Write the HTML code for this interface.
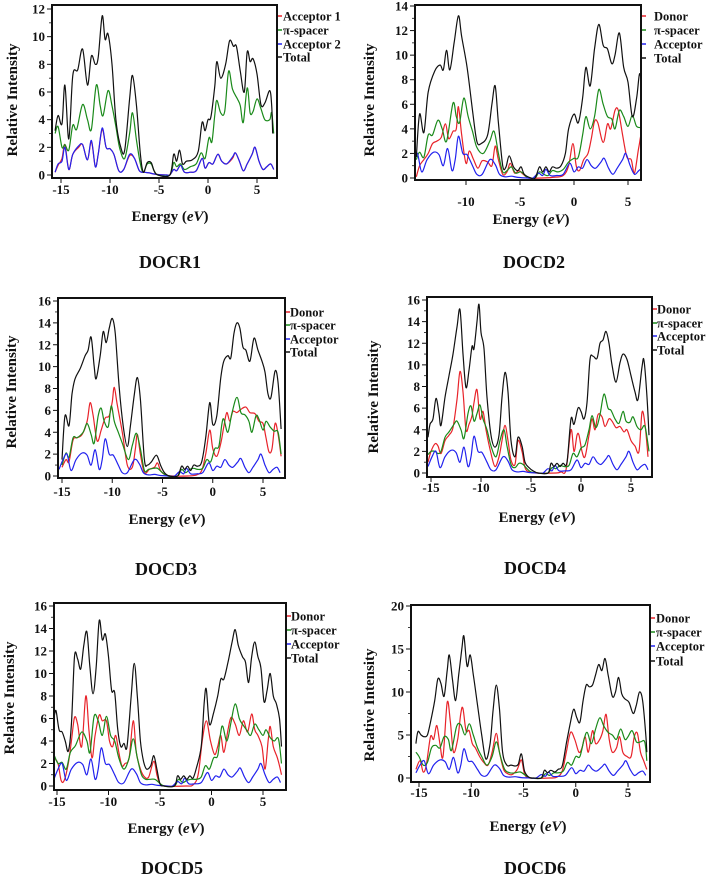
<!DOCTYPE html>
<html><head><meta charset="utf-8"><style>
html,body{margin:0;padding:0;background:#fff;}
svg{display:block;font-family:"Liberation Serif",serif;font-weight:bold;}
</style></head><body>
<svg id="fig" width="708" height="876" viewBox="0 0 708 876" xmlns="http://www.w3.org/2000/svg"></svg>
<script>
// ---- data (energy eV / relative intensity) ----
const acceptorX=[-15.3,-14.9,-14.5,-14.1,-13.6,-13.0,-12.5,-12.1,-11.7,-11.3,-11.0,-10.7,-10.3,-9.9,-9.4,-9.0,-8.5,-7.8,-7.3,-6.9,-6.4,-5.8,-5.2,-4.3,-3.8,-3.3,-2.9,-2.6,-2.2,-1.6,-1.0,-0.4,0.0,0.4,0.8,1.2,1.6,2.0,2.5,2.8,3.2,3.6,4.0,4.5,4.8,5.2,5.6,6.0,6.4,6.7];
const acceptorY=[0.6,1.5,2.0,0.5,1.5,2.1,1.9,1.0,2.4,0.6,1.5,3.4,2.0,1.9,1.0,0.3,0.3,1.5,1.1,0.3,0.1,0.15,0.05,0,0,0.4,0.2,0.7,0.2,0.2,0.3,1.2,0.5,0.9,0.8,1.5,1.0,0.8,1.3,1.6,0.8,0.3,0.8,1.5,2.0,1.0,0.3,0.6,0.8,0.3];

// DOCR1
const p1TotalX=[-15.6,-15.3,-14.9,-14.6,-14.2,-13.8,-13.3,-12.8,-12.3,-11.9,-11.5,-11.2,-10.8,-10.5,-10.2,-9.8,-9.4,-8.9,-8.5,-8.0,-7.7,-7.3,-6.9,-6.6,-6.2,-5.8,-5.5,-5.1,-3.9,-3.5,-3.2,-2.9,-2.6,-2.2,-1.6,-1.0,-0.6,-0.3,0.0,0.3,0.7,0.9,1.3,1.8,2.2,2.6,2.9,3.3,3.7,4.0,4.3,4.6,5.0,5.4,5.8,6.3,6.5,6.6];
const p1TotalY=[3.2,4.3,3.7,6.5,2.6,7.2,7.6,9.1,6.5,8.6,8.0,8.5,11.5,9.8,10.2,8.0,4.0,2.0,1.8,5.5,7.2,5.0,1.5,0.2,0.9,0.9,0.3,0,0,1.5,1.0,1.8,0.8,1.0,1.1,1.7,3.8,3.2,4.0,4.2,6.5,8.2,7.0,8.0,9.7,9.3,9.3,7.5,6.0,8.9,8.2,8.4,7.3,5.1,5.2,6.1,5.0,3.0];
const p1SpacerX=[-15.6,-15.3,-14.9,-14.6,-14.2,-13.8,-13.4,-12.8,-12.3,-11.9,-11.4,-11.0,-10.7,-10.2,-9.8,-9.4,-9.0,-8.5,-8.0,-7.7,-7.3,-6.9,-6.6,-6.2,-5.8,-5.5,-5.1,-3.9,-3.5,-3.2,-2.8,-2.4,-1.8,-1.2,-0.7,-0.3,0.1,0.4,0.7,0.9,1.3,1.7,2.1,2.5,3.0,3.3,3.6,4.0,4.3,4.6,5.0,5.4,5.8,6.3,6.5,6.7];
const p1SpacerY=[3.0,3.5,2.0,2.2,1.8,3.6,3.3,5.1,4.0,3.3,6.5,5.0,4.3,6.1,5.0,3.5,1.9,1.2,3.0,4.5,2.5,0.8,0.2,0.8,0.8,0.3,0,0,0.9,0.6,0.8,0.4,0.6,0.8,1.6,1.2,2.7,2.4,4.4,5.4,4.5,4.6,7.5,6.2,5.5,5.0,3.8,6.3,4.5,4.6,5.5,4.8,4.0,4.0,4.5,3.0];
const p1Acc2X=[-15.6,-15.3,-14.9,-14.6,-14.2,-13.8,-13.2,-12.8,-12.3,-11.9,-11.5,-11.2,-10.8,-10.4,-10.0,-9.6,-9.1,-8.6,-8.0,-7.5,-7.0,-6.5,-6.0,-5.3,-4.2,-3.9,-3.5,-3.2,-2.8,-2.4,-1.8,-1.2,-0.6,-0.3,0.1,0.5,1.0,1.4,1.9,2.5,2.8,3.2,3.6,4.0,4.5,4.8,5.2,5.6,6.0,6.4,6.7];
const p1Acc2Y=[0.2,0.8,1.0,2.0,0.4,1.5,2.1,2.2,1.1,2.5,0.6,1.5,3.4,2.0,1.9,1.5,0.3,0.4,1.5,1.2,0.3,0.2,0.15,0.05,0,0,0.4,0.3,0.7,0.2,0.2,0.3,1.2,0.5,0.9,0.8,1.5,1.0,0.8,1.3,1.6,1.0,0.3,0.8,1.5,2.0,1.0,0.4,0.6,0.8,0.4];
const p1Acc1Y=[0.2,0.7,1.2,2.2,0.4,1.5,2.0,2.2,1.1,2.4,0.6,1.5,3.3,2.0,1.9,1.5,0.3,0.4,1.4,1.2,0.3,0.2,0.15,0.05,0,0,0.4,0.3,0.7,0.2,0.2,0.3,1.2,0.5,0.9,0.8,1.5,1.0,0.8,1.2,1.6,1.0,0.3,0.8,1.5,2.0,1.0,0.4,0.6,0.8,0.4];

// DOCD2
const p2TotalX=[-14.6,-14.3,-13.9,-13.5,-12.9,-12.4,-12.1,-11.8,-11.5,-11.1,-10.7,-10.4,-9.9,-9.4,-9.0,-8.6,-8.0,-7.6,-7.3,-7.0,-6.6,-6.3,-6.0,-5.6,-5.2,-4.9,-4.6,-4.0,-3.6,-3.2,-2.9,-2.6,-2.3,-2.0,-1.6,-1.2,-0.8,-0.5,0.0,0.4,0.8,1.1,1.5,1.9,2.3,2.7,3.1,3.5,3.8,4.2,4.6,5.0,5.4,5.8,6.1,6.4,6.7];
const p2TotalY=[1.7,5.2,3.7,7.0,8.7,9.2,8.8,10.4,8.8,11.0,13.2,11.5,9.0,5.5,3.0,2.8,3.5,6.0,7.5,4.5,1.0,0.9,1.8,0.9,0.6,0.9,0.3,0,0,0.9,0.5,0.9,0.5,0.9,0.8,1.0,2.0,4.0,5.2,4.5,6.5,9.0,7.5,10.5,12.5,10.8,10.5,9.3,10.0,11.8,9.0,7.8,5.0,6.5,8.5,6.0,2.0];
const p2SpacerX=[-14.6,-14.3,-13.9,-13.5,-13.1,-12.6,-12.2,-11.8,-11.2,-10.9,-10.6,-10.2,-9.8,-9.4,-9.0,-8.4,-7.8,-7.4,-7.0,-6.6,-6.2,-5.8,-5.4,-4.9,-4.4,-4.0,-3.6,-3.2,-2.8,-2.4,-2.0,-1.5,-1.0,-0.5,0.0,0.4,0.8,1.1,1.5,1.9,2.3,2.7,3.1,3.5,3.8,4.2,4.6,5.0,5.4,5.8,6.3,6.6,6.7];
const p2SpacerY=[1.5,2.1,1.7,3.5,3.5,4.7,4.0,3.0,6.1,5.0,4.5,6.5,5.0,3.8,2.5,2.0,3.0,3.8,2.0,0.5,0.6,0.9,0.4,0.5,0.1,0,0,0.5,0.3,0.2,0.6,0.5,0.7,1.3,1.6,1.7,3.5,5.0,4.0,5.0,7.2,6.0,5.0,4.8,4.0,5.5,5.0,4.2,5.1,4.2,4.1,4.0,2.0];
const p2DonorX=[-14.6,-14.3,-13.9,-13.5,-13.1,-12.7,-12.3,-11.9,-11.6,-11.2,-10.9,-10.7,-10.4,-10.0,-9.7,-9.3,-8.9,-8.5,-8.0,-7.6,-7.3,-7.0,-6.6,-6.2,-5.9,-5.5,-5.1,-4.7,-4.2,-3.0,-2.0,-1.0,-0.5,-0.1,0.2,0.5,0.9,1.3,1.6,1.9,2.2,2.7,3.1,3.4,3.8,4.1,4.5,4.9,5.3,5.6,6.0,6.3,6.6,6.7];
const p2DonorY=[0.1,1.0,1.5,2.0,2.8,3.0,3.3,4.4,3.2,3.8,4.0,5.8,3.5,1.2,2.2,1.5,0.8,1.4,1.3,1.0,2.6,1.5,0.3,0.5,1.2,0.4,0.6,0.3,0,0,0.05,0.2,1.0,2.8,1.0,0.6,1.5,2.0,3.2,4.6,4.5,2.9,4.4,4.0,5.5,5.5,3.5,1.7,1.5,0.4,2.5,3.6,1.0,0.2];

// DOCD3
const p3TotalX=[-15.0,-14.7,-14.3,-14.0,-13.7,-13.2,-12.7,-12.4,-12.1,-11.8,-11.6,-11.2,-10.9,-10.6,-10.3,-10.0,-9.7,-9.3,-8.9,-8.5,-8.2,-7.8,-7.5,-7.2,-6.8,-6.5,-6.1,-5.6,-5.2,-4.8,-4.3,-3.5,-3.1,-2.8,-2.5,-2.2,-1.9,-1.5,-1.1,-0.7,-0.3,0.0,0.4,0.8,1.1,1.5,1.8,2.1,2.4,2.7,3.0,3.3,3.7,4.1,4.5,4.9,5.2,5.5,5.8,6.2,6.5,6.8];
const p3TotalY=[1.5,5.5,4.6,7.5,8.9,9.8,11.0,11.5,12.7,10.0,8.9,11.0,13.2,12.2,13.5,14.4,13.0,8.0,4.5,2.7,4.5,7.5,9.0,7.0,1.5,1.0,1.3,1.9,1.0,0.3,0,0,0.9,0.6,0.9,0.5,1.0,0.9,1.3,3.5,6.7,4.7,5.5,9.0,10.5,11.0,10.8,13.0,14.0,13.5,11.8,11.5,10.5,12.6,11.5,10.5,9.5,7.5,7.2,9.6,8.5,4.3];
const p3SpacerX=[-15.0,-14.6,-14.3,-13.9,-13.5,-12.9,-12.5,-12.1,-11.8,-11.4,-11.1,-10.8,-10.4,-10.1,-9.8,-9.4,-9.0,-8.4,-8.0,-7.6,-7.2,-6.8,-6.4,-5.9,-5.5,-5.0,-4.5,-3.5,-3.1,-2.7,-2.3,-1.9,-1.5,-1.0,-0.6,-0.2,0.2,0.6,0.9,1.1,1.5,1.9,2.4,2.8,3.2,3.6,3.9,4.3,4.6,5.0,5.3,5.7,6.1,6.5,6.8];
const p3SpacerY=[1.0,2.1,1.7,3.5,3.5,4.0,4.8,3.8,3.0,5.5,6.2,5.0,4.5,6.4,5.0,4.0,3.0,1.5,2.8,3.9,2.5,0.5,0.6,0.7,0.7,0.3,0,0,0.6,0.3,0.6,0.7,0.6,0.7,1.5,1.3,2.5,2.7,4.7,5.2,4.0,5.7,7.2,5.8,5.6,5.0,4.0,5.5,5.2,4.2,5.0,4.5,4.1,4.0,2.0];
const p3DonorX=[-15.0,-14.6,-14.3,-13.9,-13.5,-13.0,-12.5,-12.2,-11.9,-11.5,-11.1,-10.7,-10.3,-10.0,-9.8,-9.5,-9.0,-8.5,-8.0,-7.7,-7.5,-7.2,-6.8,-6.3,-5.8,-5.5,-5.2,-4.7,-4.0,-2.5,-1.6,-1.1,-0.7,-0.3,0.0,0.4,0.8,1.1,1.4,1.7,2.0,2.4,2.8,3.3,3.7,4.2,4.6,5.0,5.3,5.6,5.9,6.2,6.5,6.8];
const p3DonorY=[0.8,1.5,1.3,3.3,3.5,3.8,5.0,6.7,5.5,3.2,4.2,5.3,5.5,6.8,8.1,6.5,4.0,1.0,0.8,2.5,3.8,2.0,0.3,0.6,0.8,1.2,0.5,0.1,0,0,0.1,0.5,2.0,4.2,2.5,1.8,3.0,4.5,5.8,5.0,5.9,5.8,6.1,6.3,5.8,5.7,5.0,4.8,3.5,2.2,2.5,4.8,3.8,1.8];

// DOCD4
const p4TotalX=[-15.3,-15.1,-14.8,-14.5,-14.2,-14.0,-13.6,-13.2,-12.8,-12.4,-12.1,-11.8,-11.5,-11.2,-10.9,-10.7,-10.4,-10.2,-10.0,-9.7,-9.4,-9.0,-8.6,-8.2,-7.9,-7.6,-7.3,-7.0,-6.6,-6.3,-5.9,-5.6,-5.2,-4.8,-4.3,-3.3,-3.0,-2.7,-2.4,-2.1,-1.8,-1.4,-1.0,-0.7,-0.3,0.0,0.3,0.6,0.9,1.2,1.6,1.9,2.2,2.5,2.8,3.1,3.5,3.9,4.2,4.6,5.0,5.4,5.7,6.1,6.3,6.6,6.8];
const p4TotalY=[3.3,4.5,5.0,6.9,5.5,4.4,7.0,9.0,11.0,13.5,15.1,11.0,7.9,9.5,11.7,11.5,14.0,15.6,13.0,11.5,7.0,3.5,2.4,3.5,7.0,9.3,7.5,3.0,1.5,3.3,2.5,1.0,0.5,0.2,0,0,0.9,0.6,0.9,0.6,0.9,1.0,5.0,4.5,6.0,5.7,5.0,6.5,10.5,10.8,10.6,12.0,12.3,13.1,12.0,10.0,8.4,10.2,11.0,10.5,9.0,7.5,6.8,9.8,10.4,7.0,3.5];
const p4SpacerX=[-15.3,-15.0,-14.6,-14.3,-14.0,-13.6,-13.2,-12.7,-12.4,-12.0,-11.7,-11.3,-11.0,-10.7,-10.4,-10.1,-9.8,-9.4,-9.0,-8.5,-8.1,-7.7,-7.4,-7.0,-6.6,-6.2,-5.8,-5.4,-5.0,-4.3,-3.3,-2.9,-2.5,-2.1,-1.7,-1.2,-0.8,-0.4,0.0,0.4,0.8,1.1,1.5,1.9,2.3,2.7,3.0,3.4,3.8,4.2,4.5,4.9,5.2,5.6,6.0,6.4,6.8];
const p4SpacerY=[1.7,2.0,2.0,1.8,2.0,3.3,3.8,4.5,4.8,4.0,3.2,5.5,6.2,4.8,5.5,6.3,5.0,4.0,2.5,1.5,3.0,4.0,2.5,0.8,0.5,0.9,0.8,0.4,0.1,0,0,0.5,0.4,0.7,0.6,0.7,1.8,1.5,2.3,2.6,4.0,5.3,4.2,5.4,7.3,6.0,5.8,5.0,4.6,5.7,4.8,4.7,5.2,4.3,4.0,4.3,2.0];
const p4DonorX=[-15.3,-15.0,-14.6,-14.3,-14.0,-13.6,-13.2,-12.8,-12.4,-12.1,-11.8,-11.5,-11.2,-10.9,-10.7,-10.4,-10.1,-9.8,-9.5,-9.0,-8.6,-8.2,-7.9,-7.6,-7.3,-7.0,-6.6,-6.3,-5.9,-5.6,-5.2,-4.5,-2.5,-2.0,-1.5,-1.0,-0.7,-0.4,-0.2,0.1,0.4,0.8,1.1,1.4,1.7,2.1,2.4,2.8,3.1,3.5,3.9,4.3,4.6,5.0,5.4,5.8,6.1,6.4,6.7];
const p4DonorY=[1.0,2.0,2.7,2.5,1.8,3.0,3.5,4.2,6.8,9.4,7.5,4.0,4.5,5.3,6.5,7.7,5.0,5.7,4.0,1.8,0.6,1.5,3.0,4.4,3.0,1.2,0.8,3.0,2.0,0.5,0.1,0,0,0.1,0.3,4.0,2.0,3.5,3.5,2.0,1.5,3.5,5.0,4.0,5.4,5.2,4.3,5.0,4.8,4.2,4.3,3.8,4.0,3.0,2.5,2.0,5.6,4.5,1.5];

// DOCD5
const p5TotalX=[-15.3,-15.1,-14.8,-14.5,-14.2,-13.9,-13.6,-13.3,-13.0,-12.7,-12.4,-12.1,-11.8,-11.5,-11.2,-10.9,-10.6,-10.3,-10.0,-9.7,-9.4,-9.1,-8.8,-8.5,-8.2,-7.8,-7.5,-7.2,-6.9,-6.6,-6.3,-5.9,-5.6,-5.3,-5.0,-4.6,-3.6,-3.3,-3.0,-2.7,-2.4,-2.1,-1.8,-1.5,-1.0,-0.7,-0.5,-0.2,0.2,0.6,0.9,1.2,1.6,2.0,2.3,2.6,3.0,3.3,3.6,3.9,4.2,4.5,4.8,5.1,5.4,5.7,6.0,6.3,6.6,6.8];
const p5TotalY=[6.0,6.7,5.0,4.8,4.0,3.1,5.5,11.5,11.3,10.4,12.5,13.7,10.5,8.2,10.5,14.7,13.0,13.5,11.5,8.5,8.3,5.0,3.5,3.8,3.5,8.0,10.9,8.0,4.0,2.2,1.5,1.8,2.7,1.5,0.2,0,0,0.9,0.6,0.9,0.6,0.9,0.7,1.5,3.5,7.5,8.6,5.5,6.5,8.0,9.5,9.5,11.0,12.8,13.9,12.5,11.5,11.0,9.2,11.5,12.8,11.5,10.5,7.5,8.5,10.0,8.0,7.3,6.0,3.5];
const p5SpacerX=[-15.3,-14.9,-14.5,-14.1,-13.7,-13.2,-12.6,-12.1,-11.8,-11.4,-11.0,-10.6,-10.2,-9.8,-9.4,-9.0,-8.5,-8.0,-7.6,-7.2,-6.8,-6.4,-6.0,-5.5,-5.1,-4.6,-3.6,-3.2,-2.8,-2.4,-2.0,-1.5,-1.0,-0.6,-0.2,0.2,0.6,0.9,1.1,1.5,1.9,2.3,2.7,3.0,3.4,3.8,4.2,4.6,5.0,5.3,5.7,6.1,6.5,6.8];
const p5SpacerY=[2.8,2.0,2.1,1.5,3.0,3.6,4.8,4.0,3.0,6.2,5.8,4.5,6.2,4.5,4.0,2.5,1.5,2.5,4.2,2.5,1.0,0.6,0.6,0.6,0.3,0,0,0.6,0.3,0.5,0.6,0.6,0.8,1.8,1.5,2.5,2.7,4.8,5.3,4.0,5.7,7.3,6.0,5.5,5.0,4.5,5.5,5.0,4.5,5.0,4.3,4.0,4.2,2.0];
const p5DonorX=[-15.3,-14.9,-14.6,-14.3,-13.9,-13.6,-13.3,-13.0,-12.6,-12.2,-11.9,-11.6,-11.3,-10.9,-10.6,-10.2,-9.9,-9.6,-9.3,-9.0,-8.7,-8.4,-8.0,-7.6,-7.3,-6.9,-6.5,-6.1,-5.6,-5.3,-5.0,-4.5,-2.5,-1.8,-1.3,-0.9,-0.5,-0.1,0.3,0.6,0.9,1.2,1.6,1.9,2.3,2.7,3.1,3.5,3.9,4.2,4.5,4.9,5.2,5.5,5.7,6.0,6.4,6.8];
const p5DonorY=[2.5,2.0,0.5,0.5,2.0,4.0,6.1,5.5,3.5,8.0,5.0,2.5,4.5,6.3,5.8,5.8,4.0,3.5,4.5,3.0,1.8,2.0,2.5,5.8,3.0,1.5,0.8,0.8,2.2,1.0,0.2,0,0,0.1,1.0,4.0,5.8,4.0,2.8,3.5,4.5,3.0,5.0,6.1,5.5,4.5,5.8,4.8,6.4,5.0,4.5,3.5,1.5,4.0,5.3,3.5,2.5,1.0];

// DOCD6
const p6TotalX=[-15.3,-15.1,-14.8,-14.5,-14.2,-13.9,-13.5,-13.2,-12.9,-12.6,-12.3,-12.1,-11.8,-11.5,-11.2,-10.9,-10.7,-10.4,-10.1,-9.8,-9.4,-9.0,-8.6,-8.2,-7.9,-7.6,-7.3,-7.0,-6.6,-6.2,-5.8,-5.5,-5.2,-4.9,-4.5,-4.0,-3.3,-3.0,-2.7,-2.4,-2.0,-1.7,-1.3,-0.9,-0.5,-0.2,0.1,0.4,0.7,1.0,1.3,1.6,1.9,2.2,2.5,2.8,3.1,3.5,3.8,4.1,4.4,4.7,5.1,5.5,5.8,6.1,6.4,6.7,6.8];
const p6TotalY=[4.0,5.4,5.0,4.8,5.0,6.5,9.0,11.5,11.0,9.5,12.5,14.3,11.5,9.0,12.0,15.0,16.5,13.0,14.3,12.0,8.5,5.0,2.2,4.0,8.0,10.8,8.0,3.0,1.5,1.5,1.4,1.6,2.8,0.8,0.1,0,0,0.9,0.6,0.9,0.7,1.0,1.4,4.0,6.5,8.0,7.0,6.5,9.0,10.8,10.6,10.8,12.0,13.2,12.5,13.9,12.0,9.5,10.0,11.7,9.8,9.2,8.8,7.5,8.5,10.0,9.0,5.0,3.0];
const p6SpacerX=[-15.3,-15.0,-14.6,-14.2,-13.8,-13.4,-13.0,-12.6,-12.2,-11.9,-11.4,-11.0,-10.6,-10.2,-9.8,-9.4,-9.0,-8.5,-8.0,-7.6,-7.2,-6.8,-6.3,-5.8,-5.3,-4.8,-4.3,-3.3,-2.9,-2.5,-2.1,-1.7,-1.2,-0.8,-0.4,0.0,0.4,0.8,1.1,1.5,1.9,2.3,2.7,3.1,3.5,3.9,4.3,4.7,5.0,5.4,5.8,6.2,6.6,6.8];
const p6SpacerY=[3.0,2.5,1.5,1.8,3.5,3.8,3.5,4.8,4.5,3.2,6.0,6.2,5.0,6.3,5.0,3.5,2.5,1.5,2.5,4.2,2.5,1.0,0.6,0.6,0.7,0.3,0,0,0.5,0.3,0.6,0.6,0.8,1.8,1.5,2.5,2.5,4.5,5.3,4.0,5.7,7.0,6.0,5.3,5.0,4.5,5.7,4.5,4.8,5.5,4.2,4.2,4.2,2.0];
const p6DonorX=[-15.3,-14.9,-14.6,-14.3,-13.9,-13.6,-13.3,-13.0,-12.7,-12.3,-12.0,-11.7,-11.3,-11.0,-10.8,-10.5,-10.2,-9.9,-9.6,-9.2,-8.8,-8.4,-8.0,-7.6,-7.3,-6.9,-6.5,-6.1,-5.6,-5.2,-4.9,-4.4,-2.5,-1.8,-1.3,-0.9,-0.5,-0.1,0.3,0.6,0.9,1.2,1.6,1.9,2.3,2.6,2.9,3.2,3.5,3.9,4.2,4.5,4.9,5.3,5.6,5.9,6.2,6.5,6.8];
const p6DonorY=[1.0,2.0,0.7,1.5,4.8,4.5,6.1,4.0,2.5,8.8,6.5,3.0,4.5,7.5,8.1,5.5,5.5,4.0,3.5,2.5,1.8,1.5,3.0,5.2,3.0,1.0,0.5,0.4,1.0,2.1,0.5,0,0,0.1,0.8,3.0,5.3,4.5,3.0,3.5,4.8,3.0,5.5,4.0,4.5,5.5,7.4,4.5,3.0,3.5,4.8,3.0,2.5,2.5,4.8,5.2,3.0,2.0,1.0];

const xTicks=[-15,-10,-5,0,5];
const panelNames=["DOCR1","DOCD2","DOCD3","DOCD4","DOCD5","DOCD6"];
const legendD=["Donor","\u03c0-spacer","Acceptor","Total"];
const legendR=["Acceptor 1","\u03c0-spacer","Acceptor 2","Total"];

// ---- layout ----
const panels=[
 {box:[52,5,277,178],x1:[-15,61],x2:[5,257],y0:175,yt:9,ymax:12,yTicks:[0,2,4,6,8,10,12],tickY:194,en:[170,221],lab:[170,268],yt2:[12,100],lg:[283,[16,30,44,57]],legend:legendR,
  series:[[p1Acc2X,p1Acc1Y,"#e8232a"],[p1SpacerX,p1SpacerY,"#1a8a1a"],[p1Acc2X,p1Acc2Y,"#2222ee"],[p1TotalX,p1TotalY,"#111"]]},
 {box:[415,5,641,180],x1:[-10,466],x2:[5,628],y0:178,yt:6,ymax:14,yTicks:[0,2,4,6,8,10,12,14],tickY:206,en:[531,224],lab:[534,268],yt2:[369,100],lg:[654,[16,30,44,58]],legend:legendD,
  series:[[p2DonorX,p2DonorY,"#e8232a"],[p2SpacerX,p2SpacerY,"#1a8a1a"],[acceptorX,acceptorY,"#2222ee"],[p2TotalX,p2TotalY,"#111"]]},
 {box:[58,298,285,478],x1:[-15,62],x2:[5,263],y0:476,yt:301,ymax:16,yTicks:[0,2,4,6,8,10,12,14,16],tickY:496,en:[167,524],lab:[166,575],yt2:[11,392],lg:[290,[312,325,339,352]],legend:legendD,
  series:[[p3DonorX,p3DonorY,"#e8232a"],[p3SpacerX,p3SpacerY,"#1a8a1a"],[acceptorX,acceptorY,"#2222ee"],[p3TotalX,p3TotalY,"#111"]]},
 {box:[427,297,652,477],x1:[-15,431],x2:[5,631],y0:473,yt:300,ymax:16,yTicks:[0,2,4,6,8,10,12,14,16],tickY:492,en:[537,522],lab:[535,574],yt2:[373,397],lg:[657,[309,323,336,350]],legend:legendD,
  series:[[p4DonorX,p4DonorY,"#e8232a"],[p4SpacerX,p4SpacerY,"#1a8a1a"],[acceptorX,acceptorY,"#2222ee"],[p4TotalX,p4TotalY,"#111"]]},
 {box:[54,603,286,790],x1:[-15,57],x2:[5,263],y0:786,yt:606,ymax:16,yTicks:[0,2,4,6,8,10,12,14,16],tickY:806,en:[166,833],lab:[172,874],yt2:[9,698],lg:[291,[616,630,644,658]],legend:legendD,
  series:[[p5DonorX,p5DonorY,"#e8232a"],[p5SpacerX,p5SpacerY,"#1a8a1a"],[acceptorX,acceptorY,"#2222ee"],[p5TotalX,p5TotalY,"#111"]]},
 {box:[411,605,650,782],x1:[-15,419],x2:[5,628],y0:778,yt:606,ymax:20,yTicks:[0,5,10,15,20],tickY:797,en:[528,831],lab:[535,874],yt2:[369,705],lg:[656,[618,632,646,661]],legend:legendD,
  series:[[p6DonorX,p6DonorY,"#e8232a"],[p6SpacerX,p6SpacerY,"#1a8a1a"],[acceptorX,acceptorY,"#2222ee"],[p6TotalX,p6TotalY,"#111"]]}
];

const NS="http://www.w3.org/2000/svg";
const svg=document.getElementById('fig');
function mk(tag,attrs,parent){const e=document.createElementNS(NS,tag);for(const k in attrs)e.setAttribute(k,attrs[k]);(parent||svg).appendChild(e);return e;}
function smooth(pts){
  let d="M"+pts[0][0].toFixed(1)+","+pts[0][1].toFixed(1);
  for(let i=0;i<pts.length-1;i++){
    const p0=pts[Math.max(0,i-1)],p1=pts[i],p2=pts[i+1],p3=pts[Math.min(pts.length-1,i+2)];
    const c1x=p1[0]+(p2[0]-p0[0])/6,c1y=p1[1]+(p2[1]-p0[1])/6;
    const c2x=p2[0]-(p3[0]-p1[0])/6,c2y=p2[1]-(p3[1]-p1[1])/6;
    d+="C"+c1x.toFixed(1)+","+c1y.toFixed(1)+" "+c2x.toFixed(1)+","+c2y.toFixed(1)+" "+p2[0].toFixed(1)+","+p2[1].toFixed(1);
  }
  return d;
}
const seriesNames=["series-1","pi-spacer","series-3","total"];
panels.forEach((p,pi)=>{
  const g=mk('g',{});
  
  
  const sx=v=>p.x1[1]+(v-p.x1[0])*(p.x2[1]-p.x1[1])/(p.x2[0]-p.x1[0]);
  const sy=v=>p.y0-v*(p.y0-p.yt)/p.ymax;
  const [bx0,by0,bx1,by1]=p.box;
  const cid='clip'+pi;
  const cp=mk('clipPath',{id:cid},g);mk('rect',{x:bx0+1,y:by0+1,width:bx1-bx0-2,height:by1-by0-2},cp);
  p.series.forEach((s,si)=>{
    const pts=s[0].map((x,i)=>[sx(x),sy(s[1][i])]);
    const path=mk('path',{d:smooth(pts),fill:'none',stroke:s[2],'stroke-width':1.2,'clip-path':'url(#'+cid+')'},g);
    
    
  });
  const box=mk('rect',{x:bx0,y:by0,width:bx1-bx0,height:by1-by0,fill:'none',stroke:'#111','stroke-width':2},g);
  
  
  const step=p.yTicks[1]-p.yTicks[0];
  p.yTicks.forEach(t=>{
    const y=sy(t);
    mk('line',{x1:bx0-5,x2:bx0,y1:y,y2:y,stroke:'#111','stroke-width':1},g);
    if(t<p.ymax){const ym=sy(t+step/2);mk('line',{x1:bx0-3,x2:bx0,y1:ym,y2:ym,stroke:'#111','stroke-width':0.8},g);}
    const tx=mk('text',{x:bx0-7,y:y+4.5,'text-anchor':'end','font-size':13,fill:'#111'},g);
    tx.textContent=t;
    
    
  });
  xTicks.forEach(t=>{
    const x=sx(t); if(x<bx0-2||x>bx1+2)return;
    mk('line',{x1:x,x2:x,y1:by1,y2:by1+5,stroke:'#111','stroke-width':1},g);
    const tx=mk('text',{x:x,y:p.tickY,'text-anchor':'middle','font-size':13,fill:'#111'},g);
    tx.textContent=t;
    
    
  });
  const et=mk('text',{x:p.en[0],y:p.en[1],'text-anchor':'middle','font-size':15,fill:'#111'},g);
  et.innerHTML='Energy (<tspan font-style="italic">eV</tspan>)';
  
  
  const yt=mk('text',{x:0,y:0,'text-anchor':'middle','font-size':15,fill:'#111',transform:'translate('+(p.yt2[0]+5)+','+p.yt2[1]+') rotate(-90)'},g);
  yt.textContent='Relative Intensity';
  
  
  const lb=mk('text',{x:p.lab[0],y:p.lab[1],'text-anchor':'middle','font-size':18,fill:'#111'},g);
  lb.textContent=panelNames[pi];
  
  
  p.legend.forEach((name,li)=>{
    const y=p.lg[1][li];
    mk('line',{x1:bx1+1,x2:bx1+5,y1:y,y2:y,stroke:p.series[li][2],'stroke-width':1.5},g);
    const t=mk('text',{x:p.lg[0],y:y+4.5,'font-size':12.5,fill:'#111'},g);
    t.textContent=name;
    
    
  });
});
</script>
</body></html>
